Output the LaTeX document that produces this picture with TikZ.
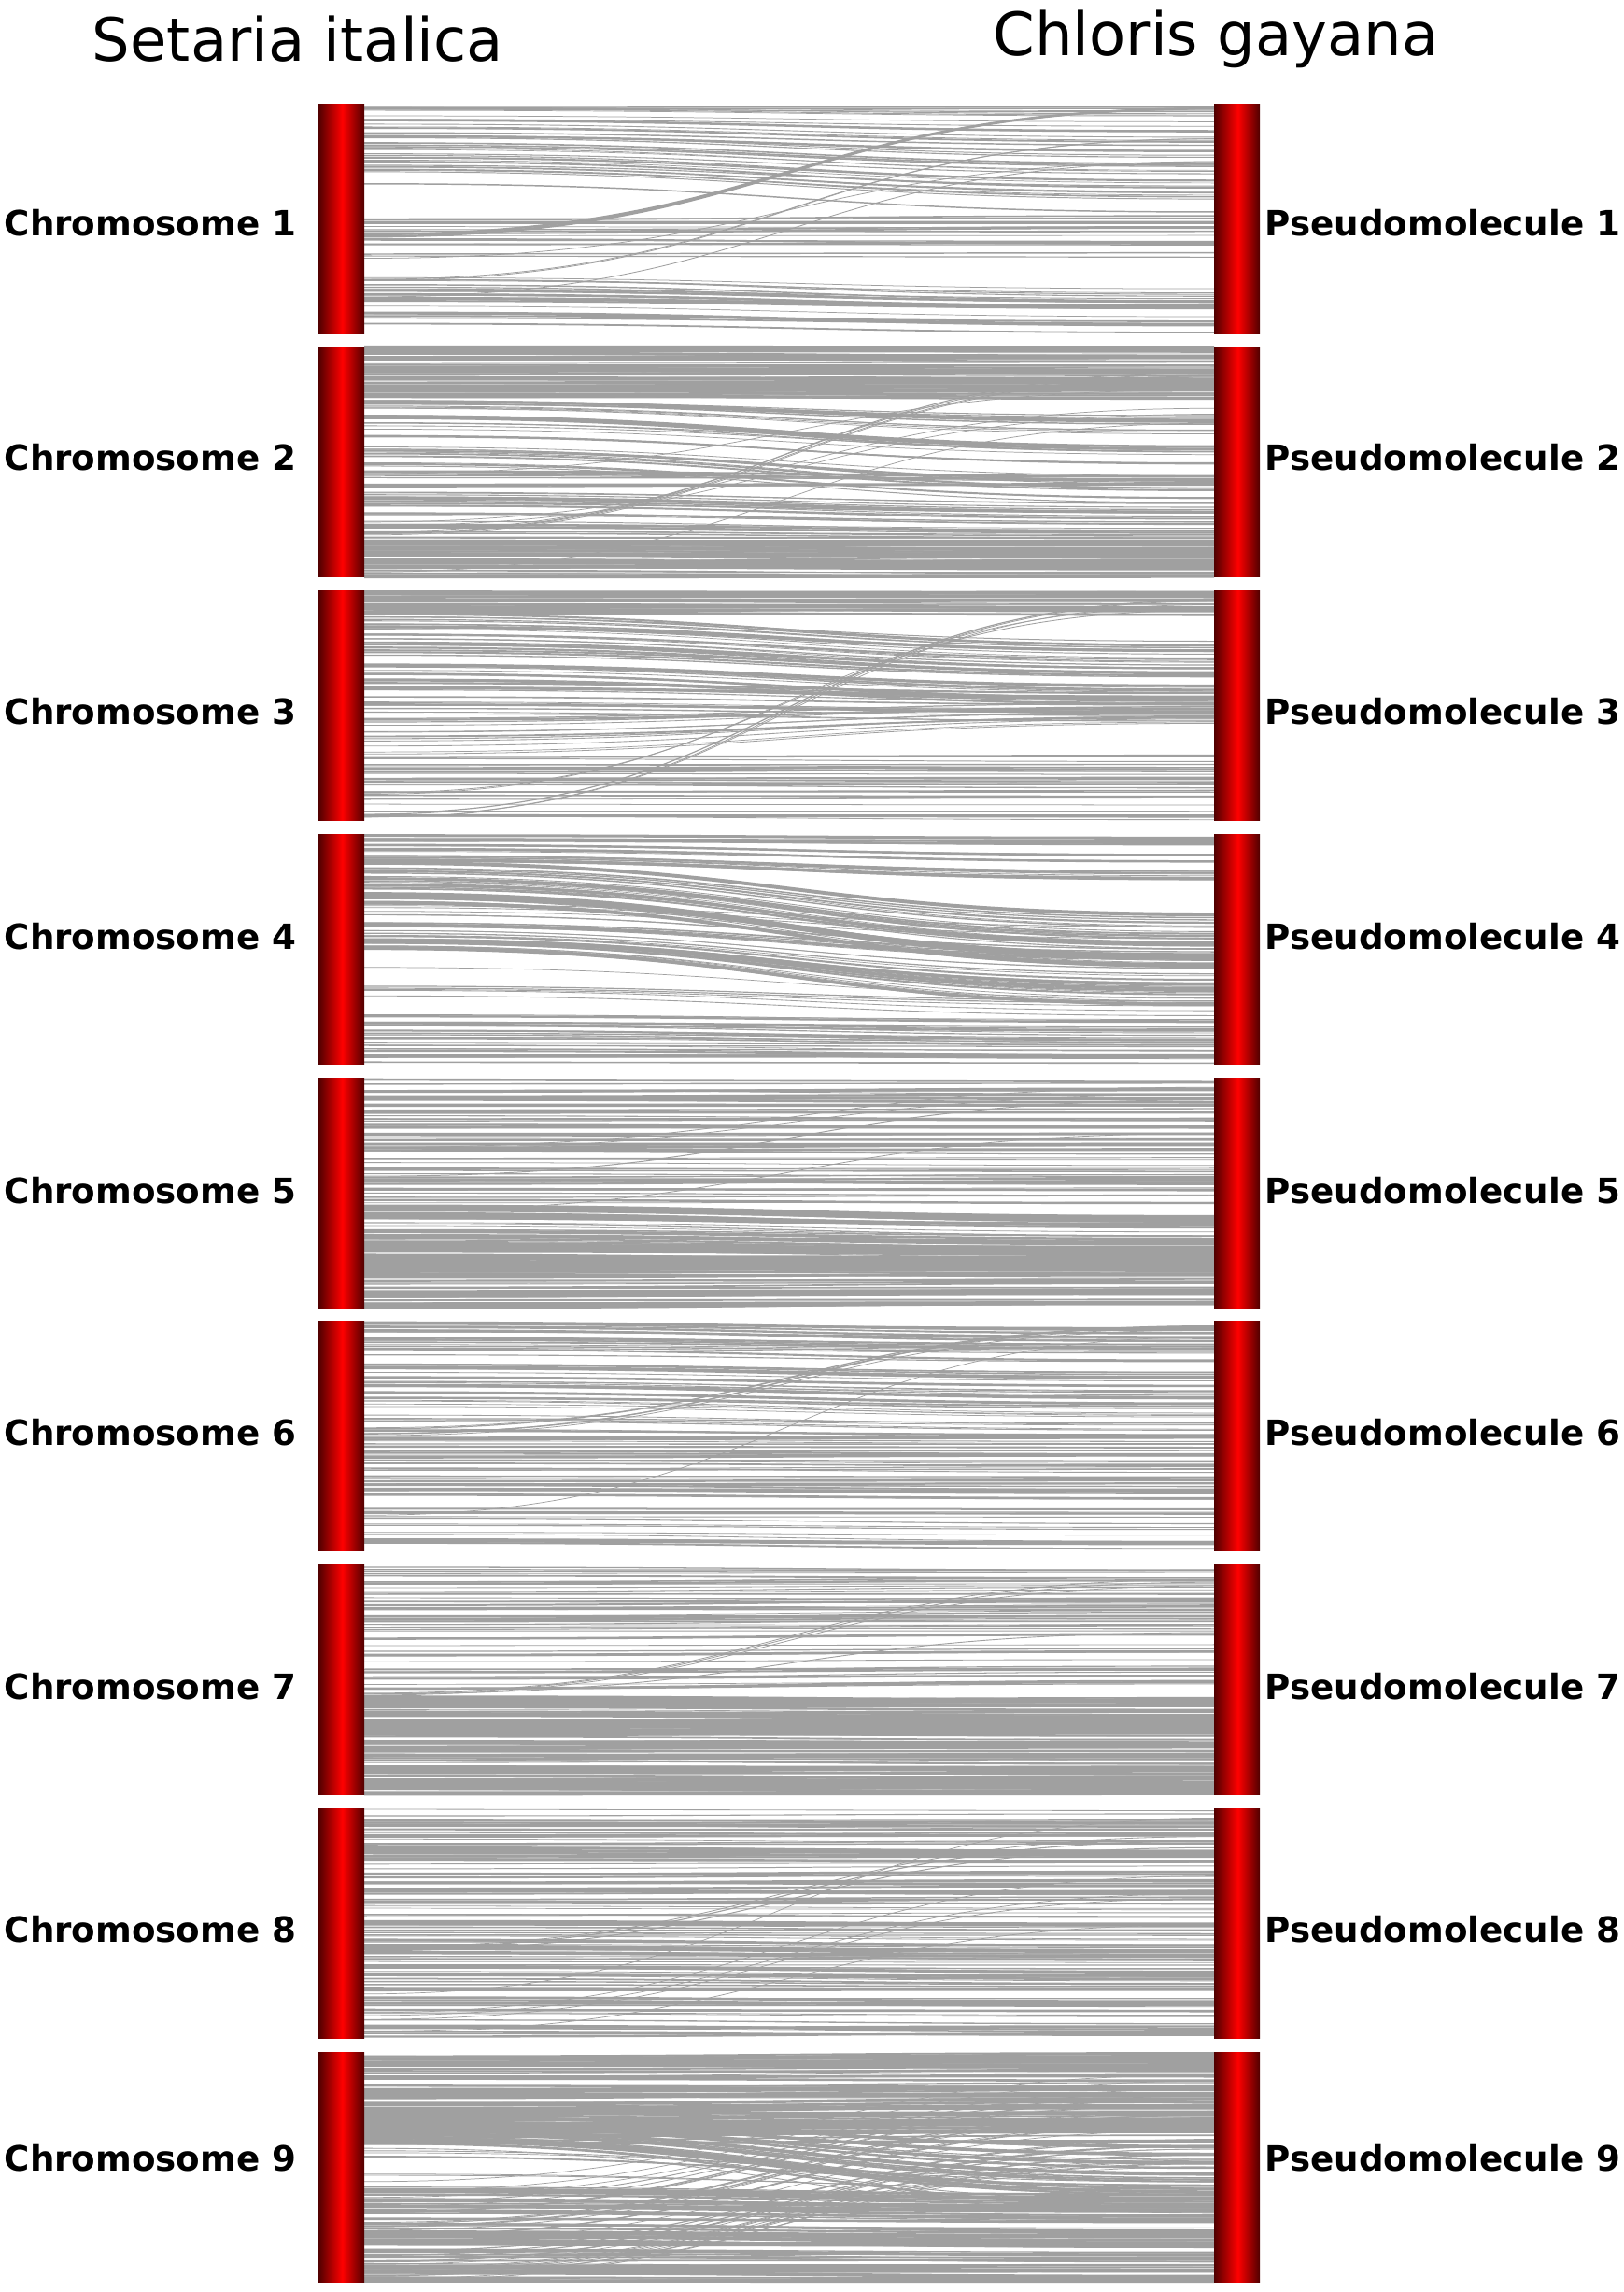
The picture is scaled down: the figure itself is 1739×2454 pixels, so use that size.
\documentclass[tikz,border=0pt]{standalone}
\usepackage{fontspec}
\setmainfont{DejaVu Sans}
\definecolor{synGray}{RGB}{160,160,160}
\definecolor{barDark}{RGB}{80,0,0}
\pgfdeclarehorizontalshading{barshade}{100bp}{color(0bp)=(barDark); color(25bp)=(barDark); color(51bp)=(red); color(75bp)=(barDark); color(100bp)=(barDark)}
\tikzset{
  synline/.style={draw=synGray},
  chrlab/.style={font=\bfseries\fontsize{18.6}{22}\selectfont, anchor=base},
  ttl/.style={font=\fontsize{32}{38}\selectfont, anchor=base},
  barbox/.style={shading=barshade}
}
\newcommand\synblocks[2]{%
  \foreach \sA/\sB/\tA/\tB/\nn/\ww in {#2}{%
    \foreach \k in {1,...,\nn}{%
      \pgfmathsetmacro\rr{rnd}%
      \pgfmathsetmacro\ya{#1+246*(\sA+\rr*(\sB-\sA))}%
      \pgfmathsetmacro\yb{#1+246*max(0.003,min(0.997,\tA+\rr*(\tB-\tA)+0.03*(rnd-0.5)))}%
      \pgfmathsetmacro\lw{0.5*(0.7+\ww*rnd*rnd)}%
      \draw[synline,line width=\lw pt] (390,\ya) .. controls (845,\ya) and (845,\yb) .. (1300,\yb);
    }}}
\begin{document}
\begin{tikzpicture}[x=0.5pt,y=-0.5pt]
\pgfmathsetseed{4242}
\fill[white] (0,0) rectangle (1739,2454);
\useasboundingbox (0,0) rectangle (1739,2454);
% titles
\node[ttl] (tleft) at (319,65) {Setaria italica};
\node[ttl] (tright) at (1302,59) {Chloris gayana};
% synteny lines
\synblocks{111}{0.00/0.06/0.00/0.10/8/2, 0.06/0.20/0.10/0.30/16/2.5, 0.20/0.35/0.30/0.46/12/2, 0.48/0.57/0.48/0.56/9/3, 0.57/0.67/0.58/0.67/7/3, 0.70/0.80/0.76/0.86/6/2, 0.80/0.97/0.85/1.00/16/3, 0.56/0.58/0.00/0.02/3/2, 0.76/0.77/0.14/0.16/2/0.6, 0.84/0.85/0.25/0.27/1/0.2, 0.67/0.68/0.24/0.25/1/0.4}
\synblocks{371.75}{0.00/0.22/0.00/0.22/60/5, 0.22/0.31/0.28/0.45/18/3, 0.31/0.44/0.42/0.58/8/1, 0.44/0.52/0.58/0.68/10/3, 0.54/0.62/0.56/0.62/8/3, 0.62/0.84/0.68/0.85/28/3, 0.84/1.00/0.85/1.00/50/5, 0.80/0.82/0.10/0.14/4/0.6, 0.55/0.56/0.18/0.20/1/0.4, 0.97/0.99/0.33/0.35/1/0.4, 0.76/0.78/0.28/0.30/2/0.4}
\synblocks{632.5}{0.00/0.10/0.00/0.10/22/4, 0.10/0.40/0.22/0.50/38/3, 0.40/0.55/0.45/0.57/18/3, 0.55/0.72/0.50/0.58/12/2, 0.72/1.00/0.72/1.00/30/3, 0.97/0.99/0.03/0.06/3/0.8, 0.88/0.92/0.08/0.10/2/0.6}
\synblocks{893.25}{0.00/0.12/0.00/0.20/22/3, 0.12/0.30/0.34/0.58/38/3.5, 0.30/0.38/0.40/0.55/6/1, 0.38/0.50/0.50/0.75/26/3.5, 0.57/0.59/0.71/0.73/1/0.3, 0.64/0.72/0.72/0.79/5/1, 0.78/0.88/0.80/0.92/16/3, 0.88/1.00/0.90/1.00/16/3}
\synblocks{1154}{0.00/0.55/0.00/0.55/65/3, 0.55/1.00/0.60/0.98/90/5, 0.57/0.58/0.22/0.23/1/0.4, 0.30/0.32/0.05/0.07/2/0.4, 0.42/0.44/0.10/0.12/1/0.4}
\synblocks{1414.75}{0.00/0.35/0.03/0.40/42/3, 0.35/0.48/0.40/0.50/10/2, 0.50/0.98/0.50/1.00/50/3, 0.45/0.50/0.01/0.04/5/1.5, 0.84/0.85/0.06/0.07/1/0.2}
\synblocks{1675.5}{0.00/0.55/0.00/0.53/55/2.5, 0.57/1.00/0.57/1.00/90/5, 0.55/0.57/0.06/0.08/3/1, 0.56/0.57/0.30/0.31/1/0.5}
\synblocks{1936.25}{0.00/0.40/0.00/0.40/55/3, 0.40/0.60/0.40/0.62/25/3, 0.60/1.00/0.62/1.00/55/3, 0.80/0.81/0.04/0.05/1/0.2, 0.88/0.89/0.30/0.31/1/0.4, 0.97/0.98/0.50/0.51/1/0.4, 0.90/0.92/0.36/0.38/2/0.4, 0.60/0.62/0.12/0.18/3/1}
\synblocks{2197}{0.00/0.40/0.00/0.38/70/5, 0.28/0.42/0.40/0.70/30/3, 0.42/0.58/0.55/0.62/6/1, 0.58/1.00/0.62/1.00/70/5, 0.55/1.00/0.08/0.50/35/0.6}
% bars
\foreach \i in {1,...,9}{
  \pgfmathsetmacro\yt{111+(\i-1)*260.75}
  \shade[barbox] (341,\yt) rectangle (390,\yt+246);
  \shade[barbox] (1300,\yt) rectangle (1349,\yt+246);
}
% labels
\foreach \i/\yl in {1/252.5, 2/503, 3/775, 4/1016, 5/1288.5, 6/1547, 7/1819, 8/2079, 9/2324.5}{
  \node[chrlab] (chr\i) at (161,\yl) {Chromosome \i};
  \node[chrlab] (pm\i) at (1545,\yl) {Pseudomolecule \i};
}
\end{tikzpicture}
\end{document}
